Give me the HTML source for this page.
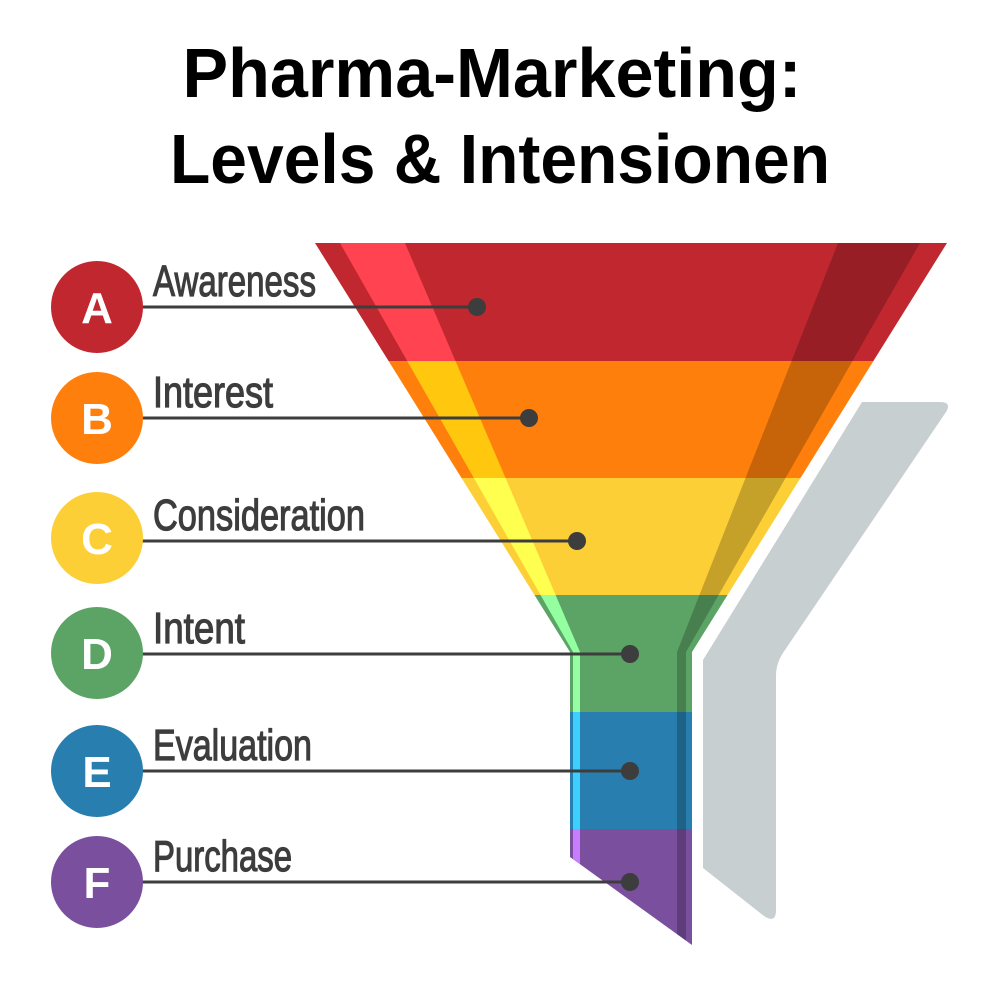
<!DOCTYPE html>
<html><head><meta charset="utf-8"><style>html,body{margin:0;padding:0;background:#fff}svg{display:block}</style></head>
<body>
<svg width="1000" height="1000" viewBox="0 0 1000 1000" xmlns="http://www.w3.org/2000/svg">
<defs>
<clipPath id="fun"><polygon points="315,243 947,243 692,652 692,945 570,857 570,652"/></clipPath>
<clipPath id="b1"><rect x="0" y="243" width="1000" height="118"/></clipPath>
<clipPath id="b2"><rect x="0" y="361" width="1000" height="117"/></clipPath>
<clipPath id="b3"><rect x="0" y="478" width="1000" height="117"/></clipPath>
<clipPath id="b4"><rect x="0" y="595" width="1000" height="117"/></clipPath>
<clipPath id="b5"><rect x="0" y="712" width="1000" height="117"/></clipPath>
<clipPath id="b6"><rect x="0" y="829" width="1000" height="130"/></clipPath>
</defs>
<text x="492" y="97" text-anchor="middle" font-family="Liberation Sans, sans-serif" font-weight="bold" font-size="70" textLength="619" lengthAdjust="spacingAndGlyphs" fill="#000">Pharma-Marketing:</text>
<text x="500" y="183" text-anchor="middle" font-family="Liberation Sans, sans-serif" font-weight="bold" font-size="70" textLength="660" lengthAdjust="spacingAndGlyphs" fill="#000">Levels &amp; Intensionen</text>

<path d="M862,402 L940,402 Q952,402 946,412 L785,650 Q776,662 776,676 L776,910 Q776,924 764,916 L703,868 L703,660 Z" fill="#c8cfd1"/>

<g clip-path="url(#fun)">
<rect x="0" y="243" width="1000" height="118" fill="#c1272f"/>
<rect x="0" y="361" width="1000" height="117" fill="#ff7f0c"/>
<rect x="0" y="478" width="1000" height="117" fill="#fdcf36"/>
<rect x="0" y="595" width="1000" height="117" fill="#5ba465"/>
<rect x="0" y="712" width="1000" height="117" fill="#287eae"/>
<rect x="0" y="829" width="1000" height="130" fill="#7a4f9d"/>
<polygon clip-path="url(#b1)" points="340,243 405,243 580,652 580,960 573,960 573,652" fill="#ff4350"/>
<polygon clip-path="url(#b2)" points="340,243 405,243 580,652 580,960 573,960 573,652" fill="#ffc80f"/>
<polygon clip-path="url(#b3)" points="340,243 405,243 580,652 580,960 573,960 573,652" fill="#ffff50"/>
<polygon clip-path="url(#b4)" points="340,243 405,243 580,652 580,960 573,960 573,652" fill="#94ffa0"/>
<polygon clip-path="url(#b5)" points="340,243 405,243 580,652 580,960 573,960 573,652" fill="#3dd0ff"/>
<polygon clip-path="url(#b6)" points="340,243 405,243 580,652 580,960 573,960 573,652" fill="#c87dff"/>
<polygon points="838,243 920,243 686,652 686,960 677,960 677,652" fill="#000" opacity="0.22"/>
</g>

<g stroke="#3d3d3d" stroke-width="3">
<line x1="140" y1="307" x2="477" y2="307"/>
<line x1="140" y1="418" x2="529" y2="418"/>
<line x1="140" y1="541" x2="577" y2="541"/>
<line x1="140" y1="654" x2="630" y2="654"/>
<line x1="140" y1="771" x2="630" y2="771"/>
<line x1="140" y1="882" x2="630" y2="882"/>
</g>
<g fill="#3d3d3d">
<circle cx="477" cy="307" r="9"/><circle cx="529" cy="418" r="9"/><circle cx="577" cy="541" r="9"/>
<circle cx="630" cy="654" r="9"/><circle cx="630" cy="771" r="9"/><circle cx="630" cy="882" r="9"/>
</g>

<circle cx="97" cy="307" r="46" fill="#c1272f"/>
<circle cx="97" cy="418" r="46" fill="#ff7f0c"/>
<circle cx="97" cy="538" r="46" fill="#fdcf36"/>
<circle cx="97" cy="653" r="46" fill="#5ba465"/>
<circle cx="97" cy="771" r="46" fill="#287eae"/>
<circle cx="97" cy="882" r="46" fill="#7a4f9d"/>
<g fill="#fff" font-family="Liberation Sans, sans-serif" font-weight="bold" font-size="44" text-anchor="middle">
<text x="97" y="323">A</text><text x="97" y="434">B</text><text x="97" y="554">C</text>
<text x="97" y="669">D</text><text x="97" y="787">E</text><text x="97" y="898">F</text>
</g>
<g fill="#3d3d3d" stroke="#3d3d3d" stroke-width="1.2" font-family="Liberation Sans, sans-serif" font-size="44">
<text x="153" y="296" textLength="163" lengthAdjust="spacingAndGlyphs">Awareness</text>
<text x="153" y="407" textLength="120" lengthAdjust="spacingAndGlyphs">Interest</text>
<text x="153" y="530" textLength="212" lengthAdjust="spacingAndGlyphs">Consideration</text>
<text x="153" y="643" textLength="92" lengthAdjust="spacingAndGlyphs">Intent</text>
<text x="153" y="760" textLength="159" lengthAdjust="spacingAndGlyphs">Evaluation</text>
<text x="153" y="871" textLength="139" lengthAdjust="spacingAndGlyphs">Purchase</text>
</g>
</svg>
</body></html>
